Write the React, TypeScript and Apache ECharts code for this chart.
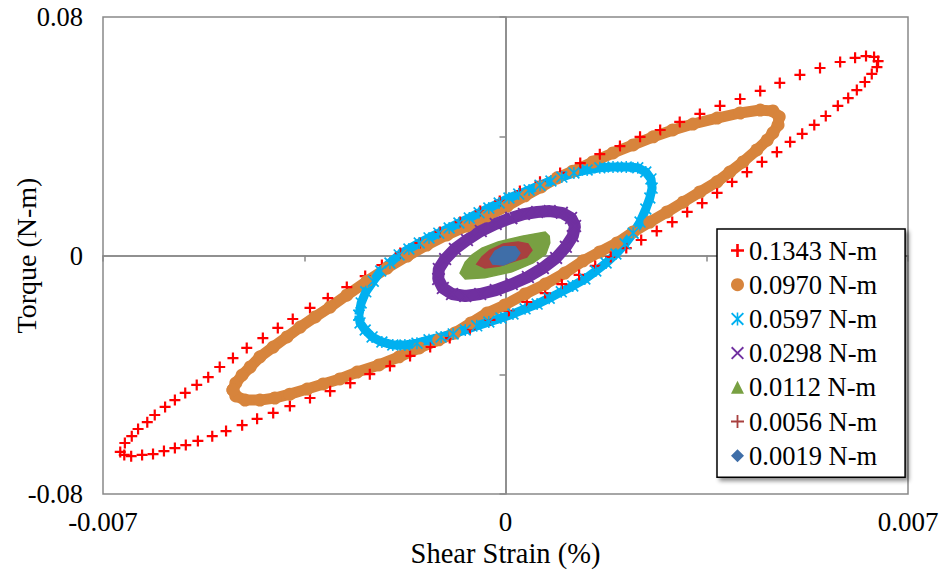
import React, { useEffect, useRef } from "react";
import * as echarts from "echarts";

// Loop data: [shear strain (%), torque (N-m)]
const loop1343: number[][] = [
  [-0.0067, -0.0659], [-0.00662, -0.0629], [-0.0065, -0.0606], [-0.00639, -0.0582], [-0.00623, -0.0559], [-0.0061, -0.0535],
  [-0.00592, -0.0508], [-0.00575, -0.0485], [-0.00557, -0.0461], [-0.00537, -0.0434], [-0.00517, -0.0408], [-0.00497, -0.0374],
  [-0.00474, -0.0344], [-0.0045, -0.031], [-0.00422, -0.0277], [-0.00396, -0.0243], [-0.0037, -0.0213], [-0.0034, -0.0176],
  [-0.00309, -0.0143], [-0.00276, -0.0106], [-0.00244, -0.0069], [-0.00215, -0.0032], [-0.00183, 0.0008], [-0.00149, 0.0042],
  [-0.00114, 0.0079], [-0.00079, 0.0112], [-0.00044, 0.0149], [-0.0001, 0.0183], [0.00025, 0.0216], [0.0006, 0.0247],
  [0.00095, 0.0277], [0.0013, 0.031], [0.00164, 0.034], [0.00199, 0.0367], [0.00234, 0.0398], [0.00269, 0.0421],
  [0.00303, 0.0448], [0.00338, 0.0475], [0.00373, 0.0502], [0.00408, 0.0525], [0.00443, 0.0552], [0.00477, 0.0579],
  [0.00512, 0.0606], [0.00547, 0.0629], [0.00582, 0.0649], [0.00608, 0.0663], [0.00627, 0.0669], [0.00641, 0.0666],
  [0.00648, 0.0652], [0.00646, 0.0632], [0.00637, 0.0609], [0.00625, 0.0582], [0.00611, 0.0555], [0.00596, 0.0528],
  [0.00578, 0.0502], [0.00557, 0.0468], [0.00537, 0.0438], [0.00516, 0.0408], [0.00495, 0.0381], [0.00472, 0.0347],
  [0.00446, 0.0314], [0.0042, 0.028], [0.00394, 0.0247], [0.00368, 0.021], [0.00342, 0.0176], [0.00316, 0.0146],
  [0.0029, 0.0112], [0.00263, 0.0082], [0.00236, 0.0052], [0.0021, 0.0025], [0.00183, -0.0005], [0.00156, -0.0035],
  [0.00128, -0.0065], [0.00098, -0.0096], [0.00069, -0.0126], [0.00037, -0.0156], [0.00006, -0.0186], [-0.00027, -0.0216],
  [-0.00062, -0.0247], [-0.00097, -0.0277], [-0.00131, -0.0307], [-0.00166, -0.0337], [-0.00201, -0.0371], [-0.00236, -0.0398],
  [-0.0027, -0.0428], [-0.00305, -0.0455], [-0.0034, -0.0478], [-0.00375, -0.0505], [-0.00404, -0.0528], [-0.00432, -0.0548],
  [-0.00458, -0.0569], [-0.00486, -0.0589], [-0.0051, -0.0606], [-0.00535, -0.0622], [-0.00556, -0.0636], [-0.00575, -0.0646],
  [-0.00594, -0.0656], [-0.00613, -0.0666], [-0.00632, -0.0669], [-0.00651, -0.0673], [-0.00663, -0.0669],
];

const loop0970: number[][] = [
  [-0.00474, -0.0451], [-0.00469, -0.0428], [-0.00458, -0.0401], [-0.00444, -0.0374], [-0.00427, -0.034], [-0.00404, -0.0307],
  [-0.0038, -0.0273], [-0.00357, -0.024], [-0.00331, -0.0206], [-0.00305, -0.0173], [-0.00276, -0.0133], [-0.00241, -0.0086],
  [-0.00206, -0.0042], [-0.00171, -0.0002], [-0.00137, 0.0035], [-0.00102, 0.0069], [-0.00067, 0.0099], [-0.00032, 0.0133],
  [0.00003, 0.0166], [0.00034, 0.02], [0.00062, 0.023], [0.0009, 0.026], [0.00117, 0.0283], [0.00152, 0.0314],
  [0.00187, 0.0344], [0.00222, 0.0371], [0.00257, 0.0398], [0.00291, 0.0421], [0.00326, 0.0441], [0.00368, 0.0461],
  [0.00408, 0.0478], [0.00443, 0.0488], [0.00465, 0.0485], [0.00476, 0.0465], [0.00474, 0.0438], [0.00465, 0.0411],
  [0.00455, 0.0387], [0.00437, 0.0354], [0.00413, 0.0314], [0.0039, 0.028], [0.00368, 0.0247], [0.00338, 0.0213],
  [0.00309, 0.0179], [0.00281, 0.0146], [0.00251, 0.0112], [0.00222, 0.0079], [0.00194, 0.0042], [0.00164, 0.0012],
  [0.00135, -0.0018], [0.00103, -0.0059], [0.00069, -0.0096], [0.00034, -0.0129], [-0.00001, -0.0166], [-0.00032, -0.0193],
  [-0.0006, -0.0226], [-0.00088, -0.026], [-0.00116, -0.0283], [-0.0015, -0.031], [-0.00185, -0.034], [-0.0022, -0.0367],
  [-0.00258, -0.0391], [-0.00288, -0.0414], [-0.00317, -0.0431], [-0.00345, -0.0448], [-0.00375, -0.0465], [-0.00401, -0.0478],
  [-0.00427, -0.0485], [-0.00453, -0.0485], [-0.00469, -0.0471],
];

const loop0597: number[][] = [
  [-0.00255, -0.02], [-0.00251, -0.0159], [-0.00243, -0.0122], [-0.0023, -0.0086], [-0.00217, -0.0052], [-0.00201, -0.0025],
  [-0.00185, 0.0002], [-0.00168, 0.0022], [-0.0015, 0.0042], [-0.00133, 0.0059], [-0.00116, 0.0075], [-0.00098, 0.0092],
  [-0.00081, 0.0109], [-0.00063, 0.0126], [-0.00046, 0.0143], [-0.00029, 0.0159], [-0.00011, 0.0176], [0.00006, 0.0193],
  [0.00023, 0.0206], [0.00041, 0.022], [0.0006, 0.0236], [0.00079, 0.025], [0.00098, 0.0263], [0.00119, 0.0277],
  [0.00142, 0.0287], [0.00164, 0.0294], [0.00187, 0.0297], [0.0021, 0.0297], [0.0023, 0.0294], [0.00244, 0.028],
  [0.00253, 0.0257], [0.00255, 0.0226], [0.00251, 0.0193], [0.00244, 0.0156], [0.00234, 0.0112], [0.00222, 0.0075],
  [0.00208, 0.0039], [0.00192, 0.0005], [0.00175, -0.0025], [0.00157, -0.0052], [0.00138, -0.0079], [0.00117, -0.0102],
  [0.00097, -0.0122], [0.00076, -0.0143], [0.00055, -0.0163], [0.00034, -0.0179], [0.00013, -0.0196], [-0.00008, -0.021],
  [-0.00029, -0.0223], [-0.0005, -0.0236], [-0.0007, -0.025], [-0.00091, -0.0263], [-0.00112, -0.0273], [-0.00133, -0.0283],
  [-0.00154, -0.0294], [-0.00175, -0.03], [-0.00196, -0.03], [-0.00215, -0.029], [-0.00232, -0.0273], [-0.00244, -0.025],
  [-0.00253, -0.0226],
];

const loop0298: number[][] = [
  [0.0001, 0.0126], [0.00032, 0.0139], [0.00055, 0.0146], [0.00077, 0.0149], [0.00098, 0.0143], [0.00114, 0.0126],
  [0.00121, 0.0099], [0.00117, 0.0065], [0.00105, 0.0029], [0.00088, -0.0008], [0.00065, -0.0042], [0.00039, -0.0072],
  [0.00011, -0.0096], [-0.00017, -0.0116], [-0.00044, -0.0129], [-0.0007, -0.0136], [-0.00093, -0.0129], [-0.00109, -0.0109],
  [-0.00117, -0.0079], [-0.00116, -0.0045], [-0.00105, -0.0012], [-0.00088, 0.0022], [-0.00067, 0.0052], [-0.00043, 0.0082],
  [-0.00017, 0.0106],
];

const loop0112: number[][] = [
  [-0.00079, -0.0059], [-0.0007, -0.0022], [-0.00058, 0.0002], [-0.00041, 0.0025], [-0.00013, 0.0045], [0.00029, 0.0065],
  [0.00069, 0.0079], [0.00076, 0.0065], [0.00077, 0.0042], [0.0007, 0.0005], [0.00048, -0.0025], [0.00011, -0.0055],
  [-0.00036, -0.0075], [-0.0007, -0.0079],
];

const loop0056: number[][] = [
  [-0.0005, -0.0029], [-0.00041, -0.0005], [-0.00027, 0.0018], [-0.00004, 0.0039], [0.00022, 0.0045], [0.00039, 0.0039],
  [0.00046, 0.0018], [0.00037, -0.0005], [0.00017, -0.0018], [-0.0001, -0.0035], [-0.00036, -0.0042],
];

const loop0019: number[][] = [
  [-0.00027, -0.0012], [-0.00018, 0.0015], [-0.00004, 0.0029], [0.00017, 0.0029], [0.00025, 0.0008], [0.00017, -0.0015],
  [-0.00004, -0.0032], [-0.00022, -0.0029],
];

const seriesNames = ["0.1343 N-m", "0.0970 N-m", "0.0597 N-m", "0.0298 N-m", "0.0112 N-m", "0.0056 N-m", "0.0019 N-m"];
const seriesColors = ["#FF0000", "#D7843C", "#00B0F0", "#7030A0", "#78A042", "#A8403F", "#3F6EA8"];
const xTickLabels = ["-0.007", "0", "0.007"];
const yTickLabels = ["-0.08", "0", "0.08"];

const FONT = "Liberation Serif";
const GRAY = "#898989";

const PLUS = "path://M4,0H6V4H10V6H6V10H4V6H0V4H4Z";
const THIN_PLUS = "path://M4.3,0H5.7V4.3H10V5.7H5.7V10H4.3V5.7H0V4.3H4.3Z";
const XMARK = "path://M0,1L1,0L10,9L9,10Z M9,0L10,1L1,10L0,9Z";
const STAR = "path://M0,1L1,0L10,9L9,10Z M9,0L10,1L1,10L0,9Z M4.4,0H5.6V10H4.4Z";

const closed = (pts: number[][]) => [...pts, pts[0]];

const polygonSeries = (name: string, pts: number[][], color: string) => ({
  type: "custom",
  name,
  z: 3,
  data: pts,
  encode: { x: 0, y: 1 },
  itemStyle: { color },
  renderItem: (params: any, api: any) => {
    if (params.dataIndex !== 0) return null;
    const points = pts.map((p) => api.coord(p));
    return {
      type: "polygon",
      shape: { points },
      style: { fill: color, stroke: color, lineWidth: 1.5 },
    };
  },
});

export default function App() {
  const ref = useRef<HTMLDivElement>(null);

  useEffect(() => {
    if (!ref.current) return;
    const chart = echarts.init(ref.current, undefined, { renderer: "svg" });
    const pickLabel = (labels: string[]) => (v: number) => {
      const hit = labels.find((l) => Math.abs(parseFloat(l) - v) < 1e-9);
      return hit ?? "";
    };

    chart.setOption({
      animation: false,
      backgroundColor: "#ffffff",
      textStyle: { fontFamily: FONT },
      grid: {
        left: 103,
        right: 34,
        top: 17,
        bottom: 79,
        show: true,
        borderColor: GRAY,
        borderWidth: 1.5,
        containLabel: false,
        outerBoundsMode: "none",
      },
      xAxis: {
        type: "value",
        min: -0.007,
        max: 0.007,
        interval: 0.0035,
        name: "Shear Strain (%)",
        nameLocation: "middle",
        nameGap: 45,
        nameMoveOverlap: false,
        nameTextStyle: { fontFamily: FONT, fontSize: 28.5, color: "#000" },
        axisLine: { lineStyle: { color: GRAY, width: 1.5 } },
        axisTick: { show: true, length: 6, lineStyle: { color: GRAY, width: 1.5 } },
        axisLabel: {
          margin: 14,
          fontFamily: FONT,
          fontSize: 27,
          color: "#000",
          formatter: pickLabel(xTickLabels),
          showMinLabel: true,
          showMaxLabel: true,
        },
        splitLine: { show: false },
      },
      yAxis: {
        type: "value",
        min: -0.08,
        max: 0.08,
        interval: 0.04,
        name: "Torque (N-m)",
        nameLocation: "middle",
        nameGap: 63,
        nameMoveOverlap: false,
        nameTextStyle: { fontFamily: FONT, fontSize: 28, color: "#000" },
        axisLine: { lineStyle: { color: GRAY, width: 1.5 } },
        axisTick: { show: true, length: 6, lineStyle: { color: GRAY, width: 1.5 } },
        axisLabel: {
          margin: 20,
          fontFamily: FONT,
          fontSize: 26.5,
          color: "#000",
          formatter: pickLabel(yTickLabels),
        },
        splitLine: { show: false },
      },
      legend: {
        orient: "vertical",
        left: 717,
        top: 229,
        padding: [8, 28, 8, 14],
        itemGap: 7.2,
        itemWidth: 13,
        itemHeight: 13,
        backgroundColor: "#ffffff",
        borderColor: "#000000",
        borderWidth: 1.5,
        shadowColor: "rgba(0,0,0,0.45)",
        shadowBlur: 4,
        shadowOffsetX: 3,
        shadowOffsetY: 3,
        textStyle: { fontFamily: FONT, fontSize: 26.5, lineHeight: 26, color: "#000" },
        data: [
          { name: seriesNames[0], icon: PLUS },
          { name: seriesNames[1], icon: "circle" },
          { name: seriesNames[2], icon: STAR },
          { name: seriesNames[3], icon: XMARK },
          { name: seriesNames[4], icon: "triangle" },
          { name: seriesNames[5], icon: THIN_PLUS },
          { name: seriesNames[6], icon: "diamond" },
        ],
      },
      series: [
        {
          type: "line",
          name: "zero-lines",
          data: [],
          z: 1,
          silent: true,
          markLine: {
            z: 1,
            silent: true,
            symbol: "none",
            label: { show: false },
            lineStyle: { color: GRAY, width: 1.5, type: "solid" },
            data: [{ xAxis: 0 }, { yAxis: 0 }],
          },
        },
        {
          type: "scatter",
          name: seriesNames[0],
          z: 3,
          data: loop1343,
          symbol: PLUS,
          symbolSize: 11,
          itemStyle: { color: seriesColors[0], opacity: 1 },
        },
        {
          type: "line",
          name: seriesNames[1],
          z: 3,
          data: closed(loop0970),
          symbol: "circle",
          symbolSize: 13,
          showSymbol: true,
          lineStyle: { color: seriesColors[1], width: 11 },
          itemStyle: { color: seriesColors[1], borderWidth: 0 },
        },
        {
          type: "line",
          name: seriesNames[2],
          z: 3,
          data: closed(loop0597),
          symbol: STAR,
          symbolSize: 12,
          showSymbol: true,
          lineStyle: { color: seriesColors[2], width: 9 },
          itemStyle: { color: seriesColors[2], borderWidth: 0 },
        },
        {
          type: "line",
          name: seriesNames[3],
          z: 3,
          data: closed(loop0298),
          symbol: XMARK,
          symbolSize: 13,
          showSymbol: true,
          lineStyle: { color: seriesColors[3], width: 12 },
          itemStyle: { color: seriesColors[3], borderWidth: 0 },
        },
        polygonSeries(seriesNames[4], loop0112, seriesColors[4]),
        polygonSeries(seriesNames[5], loop0056, seriesColors[5]),
        polygonSeries(seriesNames[6], loop0019, seriesColors[6]),
      ],
    });

    return () => chart.dispose();
  }, []);

  return (
    <div
      ref={ref}
      style={{ position: "absolute", left: 0, top: 0, width: 942, height: 573, background: "#fff" }}
    />
  );
}
